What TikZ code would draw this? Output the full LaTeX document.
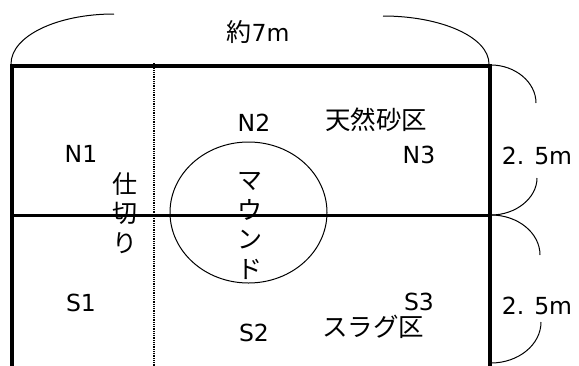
\documentclass[tikz,border=0pt]{standalone}
\usepackage{fontspec}
\setmainfont{DejaVu Sans}
\newfontfamily\cjk{Noto Sans CJK JP}
\begin{document}
\begin{tikzpicture}[x=1pt,y=-1pt,
  thickline/.style={line width=3.6pt, line join=miter},
  midline/.style={line width=2.2pt},
  partition/.style={line width=1.8pt, dash pattern=on 1pt off 0.8pt},
  thinline/.style={line width=1pt},
  lbl/.style={inner sep=0pt, font=\fontsize{23.5}{28}\selectfont},
  jlbl/.style={inner sep=0pt, font=\cjk\fontsize{25.5}{28}\selectfont},
  vlbl/.style={inner sep=0pt, align=center, font=\cjk\fontsize{25}{29.5}\selectfont},
]
\useasboundingbox (0,0) rectangle (579,365);

% outer field (bottom open)
\coordinate (bl) at (12,366);
\coordinate (tl) at (12,66);
\coordinate (tr) at (490,66);
\coordinate (br) at (490,366);
\draw[thickline] (bl) -- (tl) -- (tr) -- (br);

% middle line
\coordinate (ml) at (12,215.5);
\coordinate (mr) at (490,215.5);
\draw[midline] (ml) -- (mr);

% partition
\coordinate (pt) at (154,63);
\coordinate (pb) at (154,366);
\draw[partition] (pt) -- (pb);

% mound
\draw[thinline] (248.5,212.5) ellipse [x radius=78.5, y radius=70.5];

% top brace
\draw[thinline] (11,64) .. controls (11,36) and (57,14) .. (114,14);
\draw[thinline] (383,16) .. controls (441,16) and (489,37) .. (489,64);

% right braces
\draw[thinline] (491,65) .. controls (515,65) and (536,82) .. (536,103);
\draw[thinline] (537,178) .. controls (537,198) and (516,215) .. (491,215);
\draw[thinline] (491,215) .. controls (518,215) and (540,233) .. (540,255);
\draw[thinline] (541,322) .. controls (541,345) and (518,363) .. (491,363);

% labels
\node[lbl] (w) at (258,32) {{\cjk\fontsize{25}{28}\selectfont 約}7m};
\node[lbl] (n1) at (81,154) {N1};
\node[lbl] (n2) at (254,123) {N2};
\node[lbl] (n3) at (419,155) {N3};
\node[lbl] (s1) at (81,303) {S1};
\node[lbl] (s2) at (254,333) {S2};
\node[lbl] (s3) at (419,302) {S3};
\node[jlbl] (sand) at (376,120) {天然砂区};
\node[jlbl] (slag) at (373,327) {スラグ区};
\node[vlbl] (part) at (125,213) {仕\\切\\り};
\node[vlbl] (mound) at (250,226) {マ\\ウ\\ン\\ド};
\node[lbl] (d1) at (537,156) {2.\hspace{10pt}5m};
\node[lbl] (d2) at (537,306) {2.\hspace{10pt}5m};
\end{tikzpicture}
\end{document}
